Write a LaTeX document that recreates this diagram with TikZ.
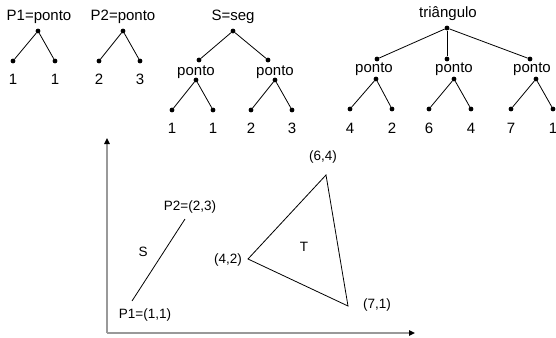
\documentclass[tikz,border=0pt]{standalone}
\usepackage{fontspec}
\setmainfont{Liberation Sans}
\usetikzlibrary{arrows.meta}
\begin{document}
\begin{tikzpicture}[x=1pt,y=-1pt,
  dot/.style={circle,fill=black,inner sep=0pt,minimum size=4.8pt},
  lbl/.style={inner sep=0pt,font=\fontsize{15}{17}\selectfont},
  blbl/.style={inner sep=0pt,font=\fontsize{13.5}{15}\selectfont},
  edge/.style={draw=black,line width=0.8pt},
  axis/.style={draw=black!40,line width=1.5pt},
  tip/.style={-{Triangle[length=6pt,width=5.5pt,color=black]}}]
\useasboundingbox (0,0) rectangle (556,337);
% Tree P1
\node[lbl] (t1) at (39,17) {P1=ponto};
\node[dot] (t1r) at (38,31) {};
\node[dot] (t1a) at (13,61) {};
\node[dot] (t1b) at (55,61) {};
\node[lbl] (t1la) at (13,79) {1};
\node[lbl] (t1lb) at (55,79) {1};
\draw[edge] (t1a) -- (t1r) -- (t1b);
% Tree P2
\node[lbl] (t2) at (123,17) {P2=ponto};
\node[dot] (t2r) at (123,31) {};
\node[dot] (t2a) at (99,61) {};
\node[dot] (t2b) at (140,61) {};
\node[lbl] (t2la) at (99,79) {2};
\node[lbl] (t2lb) at (140,79) {3};
\draw[edge] (t2a) -- (t2r) -- (t2b);
% Tree S
\node[lbl] (t3) at (233,17) {S=seg};
\node[dot] (t3r) at (233,31) {};
\node[dot] (t3m1) at (199,60) {};
\node[dot] (t3m2) at (268,60) {};
\draw[edge] (t3m1) -- (t3r) -- (t3m2);
\node[lbl] (t3p1) at (196,72) {ponto};
\node[lbl] (t3p2) at (275,72) {ponto};
\node[dot] (t3s1) at (196,80) {};
\node[dot] (t3s2) at (275,80) {};
\node[dot] (t3a) at (172,110) {};
\node[dot] (t3b) at (213,110) {};
\node[dot] (t3c) at (251,110) {};
\node[dot] (t3d) at (292,110) {};
\draw[edge] (t3a) -- (t3s1) -- (t3b);
\draw[edge] (t3c) -- (t3s2) -- (t3d);
\node[lbl] (t3la) at (172,128) {1};
\node[lbl] (t3lb) at (213,128) {1};
\node[lbl] (t3lc) at (251,128) {2};
\node[lbl] (t3ld) at (292,128) {3};
% Tree triangle
\node[lbl] (t4) at (448,14) {triângulo};
\node[dot] (t4r) at (447,28) {};
\node[dot] (t4m1) at (377,59) {};
\node[dot] (t4m2) at (447,59) {};
\node[dot] (t4m3) at (530,59) {};
\draw[edge] (t4r) -- (t4m1);
\draw[edge] (t4r) -- (t4m2);
\draw[edge] (t4r) -- (t4m3);
\node[lbl] (t4p1) at (374,69) {ponto};
\node[lbl] (t4p2) at (454,69) {ponto};
\node[lbl] (t4p3) at (532,69) {ponto};
\node[dot] (t4s1) at (376,79) {};
\node[dot] (t4s2) at (454,79) {};
\node[dot] (t4s3) at (536,79) {};
\node[dot] (t4a) at (350,109) {};
\node[dot] (t4b) at (392,109) {};
\node[dot] (t4c) at (429,109) {};
\node[dot] (t4d) at (471,109) {};
\node[dot] (t4e) at (511,109) {};
\node[dot] (t4f) at (553,109) {};
\draw[edge] (t4a) -- (t4s1) -- (t4b);
\draw[edge] (t4c) -- (t4s2) -- (t4d);
\draw[edge] (t4e) -- (t4s3) -- (t4f);
\node[lbl] (t4la) at (350,128) {4};
\node[lbl] (t4lb) at (392,128) {2};
\node[lbl] (t4lc) at (429,128) {6};
\node[lbl] (t4ld) at (471,128) {4};
\node[lbl] (t4le) at (511,128) {7};
\node[lbl] (t4lf) at (553,128) {1};
% Axes
\coordinate (O) at (107,333);
\coordinate (ytip) at (107,138);
\coordinate (xtip) at (415,333);
\draw[axis,tip] (O) -- (ytip);
\draw[axis,tip] (O) -- (xtip);
% Segment S
\coordinate (p1) at (132,301);
\coordinate (p2) at (185,219);
\draw[edge] (p1) -- (p2);
\node[blbl] (lp2) at (190,207) {P2=(2,3)};
\node[blbl] (lp1) at (145,315) {P1=(1,1)};
\node[blbl] (ls) at (143,252) {S};
% Triangle T
\coordinate (v1) at (248,259);
\coordinate (v2) at (326,175);
\coordinate (v3) at (348,306);
\draw[edge] (v1) -- (v2) -- (v3) -- cycle;
\node[blbl] (lv1) at (228,260) {(4,2)};
\node[blbl] (lv2) at (323,157) {(6,4)};
\node[blbl] (lv3) at (377,305) {(7,1)};
\node[blbl] (lt) at (304,247) {T};
\end{tikzpicture}
\end{document}
